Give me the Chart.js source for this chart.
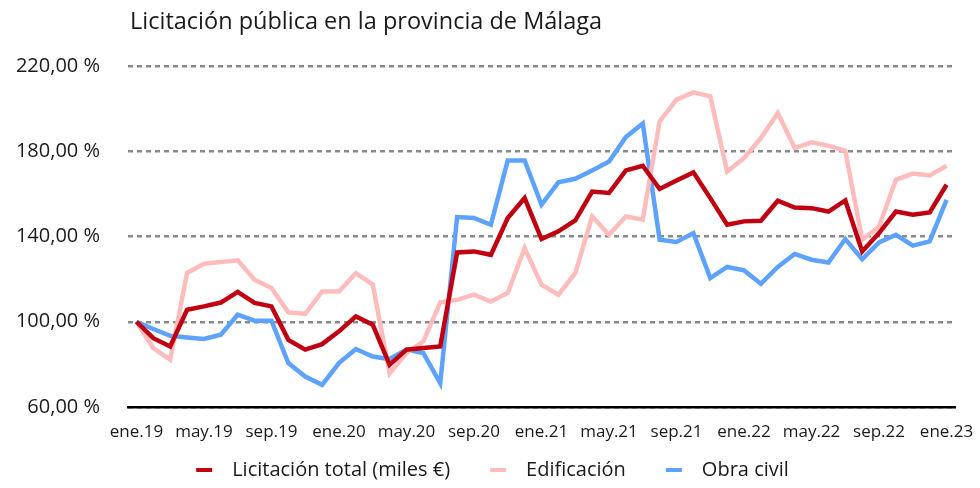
<!DOCTYPE html>
<html lang="es">
<head>
<meta charset="utf-8">
<title>Licitación pública en la provincia de Málaga</title>
<script src="https://cdn.jsdelivr.net/npm/chart.js@4.4.1/dist/chart.umd.min.js"></script>
<style>
  html, body { margin: 0; padding: 0; background: #fff; }
  #wrap { position: relative; width: 980px; height: 488px; }
</style>
</head>
<body>
<div id="wrap"><canvas id="chart" width="980" height="488"></canvas></div>
<script>
// Índice base ene.19 = 100
const months = ['ene', 'feb', 'mar', 'abr', 'may', 'jun', 'jul', 'ago', 'sep', 'oct', 'nov', 'dic'];
const years = ['19', '20', '21', '22', '23'];

const totalValues = [
  100, 92.3, 88.4, 105.6, 107.2, 109, 114, 108.8, 107.2, 91.5,
  86.9, 89.5, 95.5, 102.5, 98.6, 79.8, 86.9, 87.7, 88.4, 132.5,
  133, 131.4, 148.7, 158, 138.8, 142.4, 147.5, 161.1, 160.4, 171,
  173.2, 162.3, 166.3, 170.1, 158, 145.5, 147.1, 147.4, 156.8, 153.6,
  153.3, 151.7, 156.9, 133, 141.6, 151.7, 150.2, 151.3, 164.3
];
const edificacionValues = [
  100, 87.6, 82.2, 122.9, 127.2, 128, 128.8, 119.7, 115.8, 104.4,
  103.7, 114.2, 114.2, 122.8, 117.4, 75.9, 85.3, 90.8, 109, 110.3,
  112.7, 109.5, 113.5, 134.6, 117.4, 112.7, 122.8, 149.4, 140.8, 149.4,
  147.9, 194, 204.2, 207.6, 205.8, 170.5, 176.8, 186.2, 197.9, 181.5,
  184.2, 182.6, 180.2, 138.5, 144.7, 166.6, 169.5, 168.7, 173.2
];
const obraCivilValues = [
  100, 96.6, 93.4, 92.6, 91.9, 93.9, 103.3, 100.5, 100.5, 80.6,
  74.3, 70.4, 80.6, 87.2, 83.7, 82.5, 86.9, 85.3, 71.2, 149.1,
  148.7, 145.5, 175.7, 175.7, 154.9, 165.4, 167.1, 171, 175.2, 186.7,
  193, 138.5, 137.4, 141.6, 120.5, 125.7, 124.1, 117.8, 125.7, 131.8,
  129.1, 127.8, 138.8, 129.4, 137.2, 140.8, 135.7, 137.7, 157.2
];
const yTicks = [60, 100, 140, 180, 220];

// ene.19 ... ene.23
const labels = [];
years.forEach(y => months.forEach(m => labels.push(m + '.' + y)));
labels.length = totalValues.length;

const FONT = '"Open Sans"';
const TEXT = '#1a1a1a';
const MARK_W = 56;   // blank lead-in + 16px bar + gap before the text

// legend marker: empty lead-in, then a short bar
function legendMark(color) {
  const c = document.createElement('canvas');
  c.width = MARK_W;
  c.height = 6;
  const g = c.getContext('2d');
  g.fillStyle = color;
  g.fillRect(MARK_W - 26, 1, 16, 4);
  return c;
}

function series(label, data, color) {
  return {
    label: label,
    data: data,
    borderColor: color,
    backgroundColor: color,
    borderWidth: 4.5,
    pointRadius: 0,
    pointHoverRadius: 0,
    pointStyle: legendMark(color),
    tension: 0,
    fill: false
  };
}

const titlePlugin = {
  id: 'leftTitle',
  afterDraw(chart) {
    const ctx = chart.ctx;
    ctx.save();
    ctx.font = '23.5px ' + FONT;
    ctx.fillStyle = TEXT;
    ctx.textBaseline = 'middle';
    ctx.textAlign = 'left';
    ctx.fillText('Licitación pública en la provincia de Málaga', 130, 22);
    ctx.restore();
  }
};

new Chart(document.getElementById('chart'), {
  type: 'line',
  data: {
    labels: labels,
    datasets: [
      series('Licitación total (miles €)', totalValues, '#C00010'),
      series('Edificación', edificacionValues, '#FFBCBC'),
      series('Obra civil', obraCivilValues, '#5EA2FF')
    ]
  },
  options: {
    responsive: false,
    animation: false,
    events: [],
    layout: { padding: { top: 66, right: 25, left: 0, bottom: -2 } },
    plugins: {
      title: { display: false },
      tooltip: { enabled: false },
      legend: {
        position: 'bottom',
        labels: {
          usePointStyle: true,
          pointStyleWidth: MARK_W,
          padding: 10,
          color: TEXT,
          font: { family: FONT, size: 20 }
        }
      }
    },
    scales: {
      x: {
        offset: true,
        grid: { display: false, drawTicks: false },
        border: { display: true, color: '#000', width: 2.5 },
        afterFit: s => {
          s.height = 43;
          // end labels may hang past the plot edges
          s.paddingLeft = 0;
          s.paddingRight = 0;
        },
        ticks: {
          autoSkip: false,
          maxRotation: 0,
          padding: 15,
          color: TEXT,
          font: { family: FONT, size: 17 },
          callback: (v, i) => (i % 4 === 0 ? labels[i] : '')
        }
      },
      y: {
        min: yTicks[0],
        max: yTicks[yTicks.length - 1],
        afterBuildTicks: s => { s.ticks = yTicks.map(v => ({ value: v })); },
        afterFit: s => { s.width = 128; },
        border: { display: false, dash: [5, 4] },
        grid: { color: '#8a8a8a', lineWidth: 2.5, drawTicks: false },
        ticks: {
          padding: 28,
          color: TEXT,
          font: { family: FONT, size: 20 },
          callback: v => v.toFixed(2).replace('.', ',') + ' %'
        }
      }
    }
  },
  plugins: [titlePlugin]
});
</script>
</body>
</html>
